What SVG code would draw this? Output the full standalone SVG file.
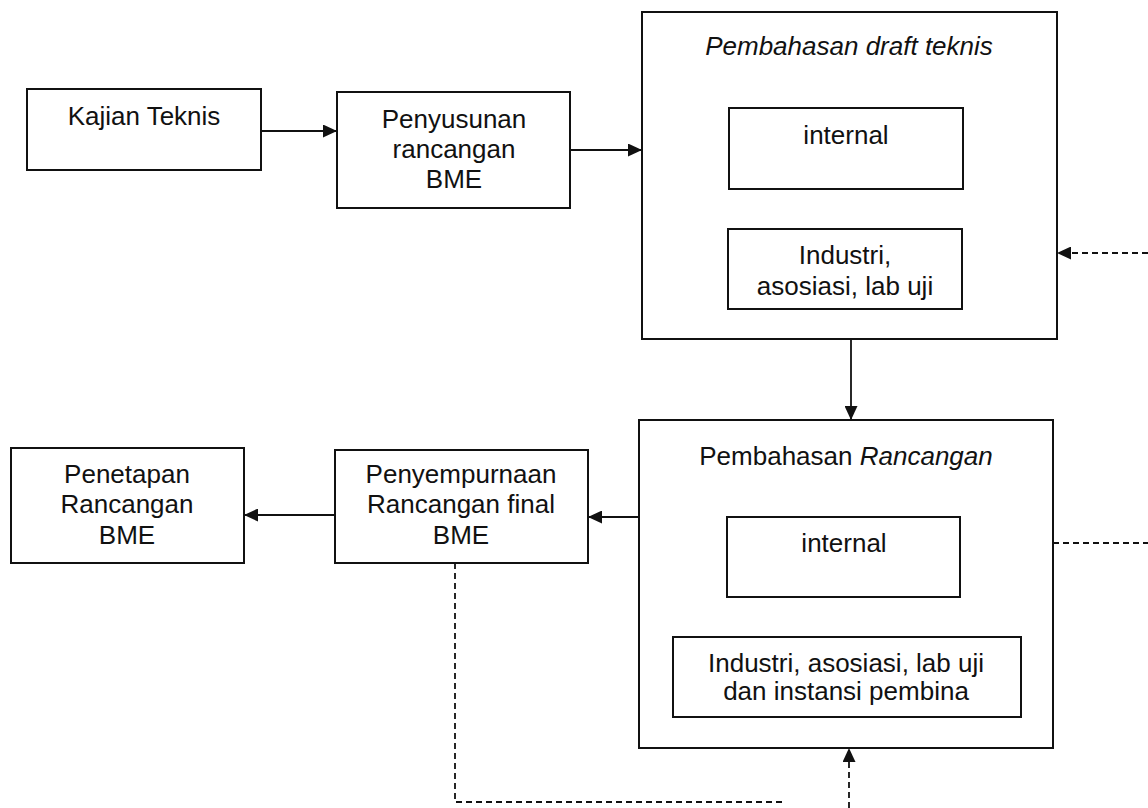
<svg xmlns="http://www.w3.org/2000/svg" width="1148" height="808" viewBox="0 0 1148 808">
  <style>
    .box { fill: #ffffff; stroke: #111111; stroke-width: 2; }
    .lbl { font-family: "Liberation Sans", Arial, sans-serif; font-size: 26px; fill: #111111; text-anchor: middle; }
    .it { font-style: italic; }
    .line { fill: none; stroke: #111111; stroke-width: 1.8; }
    .dash { fill: none; stroke: #111111; stroke-width: 1.8; stroke-dasharray: 6 4; }
  </style>
  <defs>
    <marker id="arrow" viewBox="0 0 14 13" refX="14" refY="6.5" markerWidth="14" markerHeight="13" markerUnits="userSpaceOnUse" orient="auto">
      <path d="M0,0 L14,6.5 L0,13 Z" fill="#111111"/>
    </marker>
  </defs>
  <rect x="0" y="0" width="1148" height="808" fill="#ffffff"/>

  <g id="kajian-teknis">
    <rect class="box" x="27" y="89" width="234" height="81"/>
    <text class="lbl" x="144" y="125">Kajian Teknis</text>
  </g>

  <g id="penyusunan-rancangan">
    <rect class="box" x="337" y="92" width="233" height="116"/>
    <text class="lbl" x="454" y="128">Penyusunan</text>
    <text class="lbl" x="454" y="158">rancangan</text>
    <text class="lbl" x="454" y="188">BME</text>
  </g>

  <g id="pembahasan-draft">
    <rect class="box" x="642" y="12" width="415" height="327"/>
    <text class="lbl it" x="849" y="55">Pembahasan draft teknis</text>
    <g id="draft-internal">
      <rect class="box" x="729" y="108" width="234" height="81"/>
      <text class="lbl" x="846" y="144">internal</text>
    </g>
    <g id="draft-industri">
      <rect class="box" x="728" y="229" width="234" height="80"/>
      <text class="lbl" x="845" y="264">Industri,</text>
      <text class="lbl" x="845" y="295">asosiasi, lab uji</text>
    </g>
  </g>

  <g id="pembahasan-rancangan">
    <rect class="box" x="639" y="420" width="414" height="328"/>
    <text class="lbl" x="846" y="465">Pembahasan <tspan class="it">Rancangan</tspan></text>
    <g id="rancangan-internal">
      <rect class="box" x="727" y="517" width="233" height="80"/>
      <text class="lbl" x="844" y="552">internal</text>
    </g>
    <g id="rancangan-industri">
      <rect class="box" x="673" y="637" width="348" height="80"/>
      <text class="lbl" x="846" y="672">Industri, asosiasi, lab uji</text>
      <text class="lbl" x="846" y="700">dan instansi pembina</text>
    </g>
  </g>

  <g id="penyempurnaan">
    <rect class="box" x="335" y="450" width="253" height="113"/>
    <text class="lbl" x="461" y="483">Penyempurnaan</text>
    <text class="lbl" x="461" y="513">Rancangan final</text>
    <text class="lbl" x="461" y="544">BME</text>
  </g>

  <g id="penetapan">
    <rect class="box" x="11" y="448" width="233" height="115"/>
    <text class="lbl" x="127" y="483">Penetapan</text>
    <text class="lbl" x="127" y="513">Rancangan</text>
    <text class="lbl" x="127" y="544">BME</text>
  </g>

  <g id="connectors">
    <line class="line" x1="261" y1="131" x2="337" y2="131" marker-end="url(#arrow)"/>
    <line class="line" x1="570" y1="150" x2="642" y2="150" marker-end="url(#arrow)"/>
    <line class="line" x1="851" y1="339" x2="851" y2="420" marker-end="url(#arrow)"/>
    <line class="line" x1="639" y1="517" x2="588" y2="517" marker-end="url(#arrow)"/>
    <line class="line" x1="335" y1="515" x2="244" y2="515" marker-end="url(#arrow)"/>
    <line class="dash" x1="1148" y1="253" x2="1057" y2="253" marker-end="url(#arrow)"/>
    <line class="dash" x1="1053" y1="543" x2="1148" y2="543"/>
    <polyline class="dash" points="455,563 455,802 785,802"/>
    <line class="dash" x1="849" y1="808" x2="849" y2="748" marker-end="url(#arrow)"/>
  </g>
</svg>
